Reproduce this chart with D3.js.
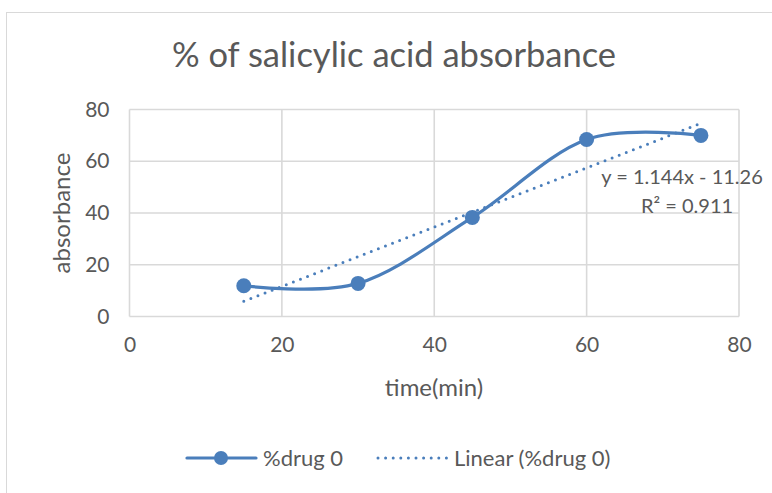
<!DOCTYPE html>
<html>
<head>
<meta charset="utf-8">
<script src="https://cdn.jsdelivr.net/npm/d3@7"></script>
<style>
  body { margin: 0; background: #fff; }
  svg { display: block; font-family: Lato, "Open Sans", sans-serif; }
</style>
</head>
<body>
<svg width="772" height="493"></svg>
<script>
// data
var times = [15, 30, 45, 60, 75];
var absorbance = [11.9, 12.8, 38.3, 68.4, 70];
var xTicks = [0, 20, 40, 60, 80];
var yTicks = [0, 20, 40, 60, 80];
var seriesName = "%drug 0";
var trendName = "Linear (%drug 0)";
var equationText = "y = 1.144x - 11.26";
var r2Text = "R\u00b2 = 0.911";

var svg = d3.select("svg");
var blue = "#4a7ebb";
var textColor = "#595959";
var gridColor = "#d9d9d9";

// chart frame
svg.append("rect")
    .attr("x", 6.5).attr("y", 12.5)
    .attr("width", 800).attr("height", 500)
    .attr("fill", "#fff")
    .attr("stroke", gridColor)
    .attr("stroke-width", 1);

var x = d3.scaleLinear().domain([0, 80]).range([129.5, 739]);
var y = d3.scaleLinear().domain([0, 80]).range([316.5, 109.5]);

// gridlines
svg.append("g").selectAll("line")
    .data(yTicks).enter().append("line")
    .attr("x1", x(0)).attr("x2", x(80))
    .attr("y1", function (d) { return y(d); })
    .attr("y2", function (d) { return y(d); })
    .attr("stroke", gridColor).attr("stroke-width", 1.6);
svg.append("g").selectAll("line")
    .data(xTicks).enter().append("line")
    .attr("y1", y(0)).attr("y2", y(80))
    .attr("x1", function (d) { return x(d); })
    .attr("x2", function (d) { return x(d); })
    .attr("stroke", gridColor).attr("stroke-width", 1.6);

// axes, tick labels only
var xAxis = svg.append("g")
    .attr("transform", "translate(0," + y(0) + ")")
    .call(d3.axisBottom(x).tickValues(xTicks).tickSize(0).tickPadding(21));
var yAxis = svg.append("g")
    .attr("transform", "translate(" + x(0) + ",0)")
    .call(d3.axisLeft(y).tickValues(yTicks).tickSize(0).tickPadding(20));
[xAxis, yAxis].forEach(function (a) {
    a.select(".domain").remove();
    a.selectAll("text")
        .attr("fill", textColor)
        .style("font-size", "21px")
        .style("font-family", "Lato, sans-serif");
});

// title and axis titles
svg.append("text")
    .attr("x", 394).attr("y", 67)
    .attr("text-anchor", "middle")
    .attr("fill", textColor)
    .style("font-size", "34.5px")
    .text("% of salicylic acid absorbance");
svg.append("text")
    .attr("x", 434).attr("y", 396)
    .attr("text-anchor", "middle")
    .attr("fill", textColor)
    .style("font-size", "24px")
    .text("time(min)");
svg.append("text")
    .attr("transform", "translate(70,213) rotate(-90)")
    .attr("text-anchor", "middle")
    .attr("fill", textColor)
    .style("font-size", "24px")
    .text("absorbance");

// linear trendline from least squares
var data = times.map(function (t, i) { return { t: t, v: absorbance[i] }; });
var mx = d3.mean(times), my = d3.mean(absorbance);
var slope = d3.sum(data, function (d) { return (d.t - mx) * (d.v - my); }) /
    d3.sum(data, function (d) { return (d.t - mx) * (d.t - mx); });
var intercept = my - slope * mx;
var tx = d3.extent(times);
svg.append("line")
    .attr("x1", x(tx[0])).attr("y1", y(slope * tx[0] + intercept))
    .attr("x2", x(tx[1])).attr("y2", y(slope * tx[1] + intercept))
    .attr("stroke", blue)
    .attr("stroke-width", 3)
    .attr("stroke-linecap", "round")
    .attr("stroke-dasharray", "0 7.6");

// smoothed series line
var line = d3.line()
    .x(function (d) { return x(d.t); })
    .y(function (d) { return y(d.v); })
    .curve(d3.curveCardinal.tension(0));
svg.append("path")
    .datum(data)
    .attr("d", line)
    .attr("fill", "none")
    .attr("stroke", blue)
    .attr("stroke-width", 3.2);
svg.append("g").selectAll("circle")
    .data(data).enter().append("circle")
    .attr("cx", function (d) { return x(d.t); })
    .attr("cy", function (d) { return y(d.v); })
    .attr("r", 7.5)
    .attr("fill", blue);

// trendline label
var eq = svg.append("text")
    .attr("text-anchor", "middle")
    .attr("fill", textColor)
    .style("font-size", "20px");
eq.append("tspan").attr("x", 682).attr("y", 184).text(equationText);
eq.append("tspan").attr("x", 687).attr("y", 213).text(r2Text);

// legend
var lg = svg.append("g").attr("transform", "translate(0,458)");
lg.append("line")
    .attr("x1", 187).attr("x2", 256)
    .attr("stroke", blue).attr("stroke-width", 3.2)
    .attr("stroke-linecap", "round");
lg.append("circle").attr("cx", 221).attr("r", 7).attr("fill", blue);
lg.append("text")
    .attr("x", 263).attr("dy", "0.35em")
    .attr("fill", textColor).style("font-size", "22px")
    .text(seriesName);
lg.append("line")
    .attr("x1", 378).attr("x2", 447)
    .attr("stroke", blue).attr("stroke-width", 3)
    .attr("stroke-linecap", "round")
    .attr("stroke-dasharray", "0 7.6");
lg.append("text")
    .attr("x", 454).attr("dy", "0.35em")
    .attr("fill", textColor).style("font-size", "22px")
    .text(trendName);
</script>
</body>
</html>
